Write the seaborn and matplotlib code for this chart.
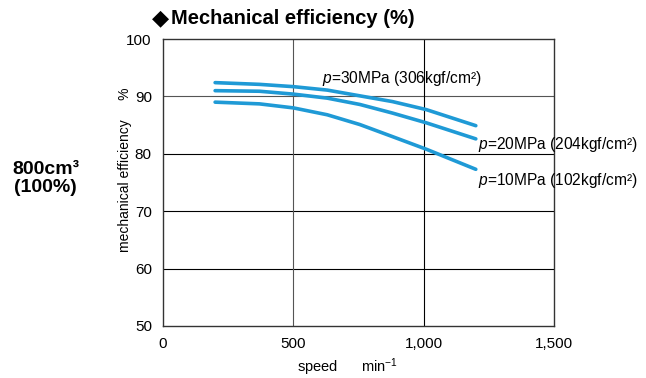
import matplotlib
matplotlib.use("Agg")
import matplotlib.pyplot as plt
import pandas as pd
import seaborn as sns

# values
speed = [200, 370, 500, 630, 755, 880, 1010, 1200]
eff_30mpa = [92.4, 92.1, 91.7, 91.1, 90.1, 89.1, 87.7, 84.9]
eff_20mpa = [91.0, 90.9, 90.4, 89.7, 88.6, 87.1, 85.4, 82.6]
eff_10mpa = [89.0, 88.7, 88.0, 86.8, 85.1, 83.0, 80.8, 77.3]
pressures = ["30MPa", "20MPa", "10MPa"]
x_ticks = [0, 500, 1000, 1500]
x_tick_labels = ["0", "500", "1,000", "1,500"]
y_ticks = [50, 60, 70, 80, 90, 100]

df = pd.concat(
    [
        pd.DataFrame({"speed": speed, "eff": vals, "pressure": p})
        for p, vals in zip(pressures, [eff_30mpa, eff_20mpa, eff_10mpa])
    ],
    ignore_index=True,
)

sns.set_style("white")
plt.rcParams["font.family"] = ["Liberation Sans", "DejaVu Sans"]
plt.rcParams["text.color"] = "black"
plt.rcParams["xtick.color"] = "black"
plt.rcParams["ytick.color"] = "black"
plt.rcParams["axes.labelcolor"] = "black"
plt.rcParams["mathtext.fontset"] = "custom"
plt.rcParams["mathtext.rm"] = "Liberation Sans"
plt.rcParams["mathtext.it"] = "Liberation Sans:italic"
plt.rcParams["mathtext.bf"] = "Liberation Sans:bold"

fig = plt.figure(figsize=(6.46, 3.78), dpi=100)
ax = fig.add_axes([0.2523, 0.1376, 0.6053, 0.7592])

blue = "#1f9ad6"
sns.lineplot(
    data=df, x="speed", y="eff", hue="pressure", hue_order=pressures,
    palette=[blue] * 3, linewidth=2.6, legend=False, ax=ax,
)

ax.set_xlim(0, 1500)
ax.set_ylim(50, 100)
ax.set_xticks(x_ticks)
ax.set_xticklabels(x_tick_labels)
ax.set_yticks(y_ticks)
ax.tick_params(axis="both", labelsize=11, length=3, color="#333333", pad=5)

for v in [60, 70, 80, 90]:
    ax.axhline(v, color="#555555" if v == 90 else "black", lw=0.8, zorder=0)
for v in [500, 1000]:
    ax.axvline(v, color="#555555" if v == 500 else "black", lw=0.8, zorder=0)
for s in ax.spines.values():
    s.set_color("#333333")
    s.set_linewidth(1.0)

ax.set_xlabel("speed      min$^{-1}$", fontsize=10.5, labelpad=6)
ax.set_ylabel("mechanical efficiency     %", fontsize=10)
ax.yaxis.set_label_coords(-0.08, 0.543)
ax.xaxis.set_label_coords(0.473, -0.105)

lbl = dict(fontsize=11.2, va="center", ha="left", clip_on=False)
ax.text(609, 93.1, "$p$=30MPa (306kgf/cm²)", **lbl)
ax.text(1207, 81.6, "$p$=20MPa (204kgf/cm²)", **lbl)
ax.text(1207, 75.3, "$p$=10MPa (102kgf/cm²)", **lbl)

fig.text(0.235, 0.952, "\u25c6", fontsize=16, ha="left", va="center",
         family=["DejaVu Sans"])
fig.text(0.264, 0.952, "Mechanical efficiency (%)", fontsize=14.5,
         fontweight="bold", ha="left", va="center")
fig.text(0.071, 0.528, "800cm³\n(100%)", fontsize=14,
         fontweight="bold", ha="center", va="center", linespacing=1.1)

fig.savefig("out.png", dpi=100)
